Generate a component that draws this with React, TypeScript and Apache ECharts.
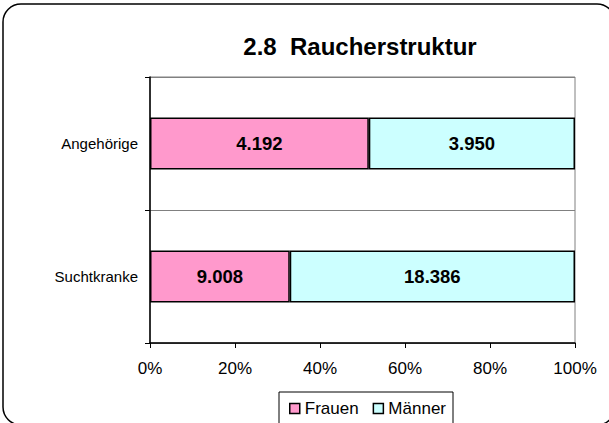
import React, { useEffect, useRef } from "react";
import * as echarts from "echarts";

const categories = ["Suchtkranke", "Angehörige"];
const frauen = [9008, 4192];
const maenner = [18386, 3950];
const seriesNames = ["Frauen", "Männer"];
const xTicks = [0, 20, 40, 60, 80, 100];
const titleText = "2.8  Raucherstruktur";

const fmt = (v: number) => String(v).replace(/\B(?=(\d{3})+(?!\d))/g, ".");

export default function App() {
  const ref = useRef<HTMLDivElement>(null);
  useEffect(() => {
    if (!ref.current) return;
    const chart = echarts.init(ref.current, null, { renderer: "svg" });
    const totals = categories.map((_, i) => frauen[i] + maenner[i]);
    const pctF = frauen.map((v, i) => (v / totals[i]) * 100);
    const pctM = maenner.map((v, i) => (v / totals[i]) * 100);
    const raw = [frauen, maenner];
    const font = "'Liberation Sans', Arial, sans-serif";
    const mkSeries = (idx: number, data: number[], color: string) => ({
      name: seriesNames[idx],
      type: "bar",
      stack: "total",
      barWidth: "39%",
      data,
      itemStyle: { color, borderColor: "#000", borderWidth: 1.5 },
      label: {
        show: true,
        position: "inside",
        color: "#000",
        fontFamily: font,
        fontWeight: "bold",
        fontSize: 18.5,
        formatter: (p: any) => fmt(raw[idx][p.dataIndex]),
      },
    });
    chart.setOption({
      animation: false,
      backgroundColor: "#fff",
      title: {
        text: titleText,
        left: 355,
        textAlign: "center",
        top: 29,
        textStyle: { fontFamily: font, fontWeight: "bold", fontSize: 24, color: "#000" },
      },
      graphic: [
        {
          type: "rect",
          shape: { x: 3, y: 4, width: 612, height: 421, r: 18 },
          style: { fill: "none", stroke: "#000", lineWidth: 1.5 },
          silent: true,
          z: 100,
        },
      ],
      legend: {
        data: seriesNames,
        left: 279,
        top: 392,
        padding: [8, 7, 14, 10],
        itemGap: 14,
        itemWidth: 10,
        itemHeight: 10,
        icon: "rect",
        backgroundColor: "#fff",
        borderColor: "#000",
        borderWidth: 1,
        textStyle: { fontFamily: font, fontSize: 17, color: "#000" },
        itemStyle: { borderColor: "#000", borderWidth: 1.5 },
      },
      grid: {
        left: 150,
        right: 34,
        top: 77,
        bottom: 80,
        show: true,
        borderColor: "#808080",
        borderWidth: 1,
        backgroundColor: "transparent",
      },
      xAxis: {
        type: "value",
        min: xTicks[0],
        max: xTicks[xTicks.length - 1],
        interval: 20,
        axisLine: { show: true, lineStyle: { color: "#000", width: 1.5 } },
        axisTick: { show: true, length: 5, lineStyle: { color: "#000" } },
        splitLine: { show: false },
        axisLabel: {
          formatter: "{value}%",
          fontFamily: font,
          fontSize: 17,
          color: "#000",
          margin: 17,
        },
      },
      yAxis: {
        type: "category",
        data: categories,
        axisLine: { show: true, lineStyle: { color: "#000", width: 1.5 } },
        axisTick: { show: true, length: 5, alignWithLabel: false, lineStyle: { color: "#000" } },
        splitLine: { show: true, lineStyle: { color: "#808080", width: 1 } },
        axisLabel: { fontFamily: font, fontSize: 15, color: "#000", margin: 12 },
      },
      series: [mkSeries(0, pctF, "#FF99CC"), mkSeries(1, pctM, "#CCFFFF")],
    });
    return () => chart.dispose();
  }, []);
  return (
    <div
      ref={ref}
      style={{ position: "absolute", left: 0, top: 0, width: 609, height: 423 }}
    />
  );
}
